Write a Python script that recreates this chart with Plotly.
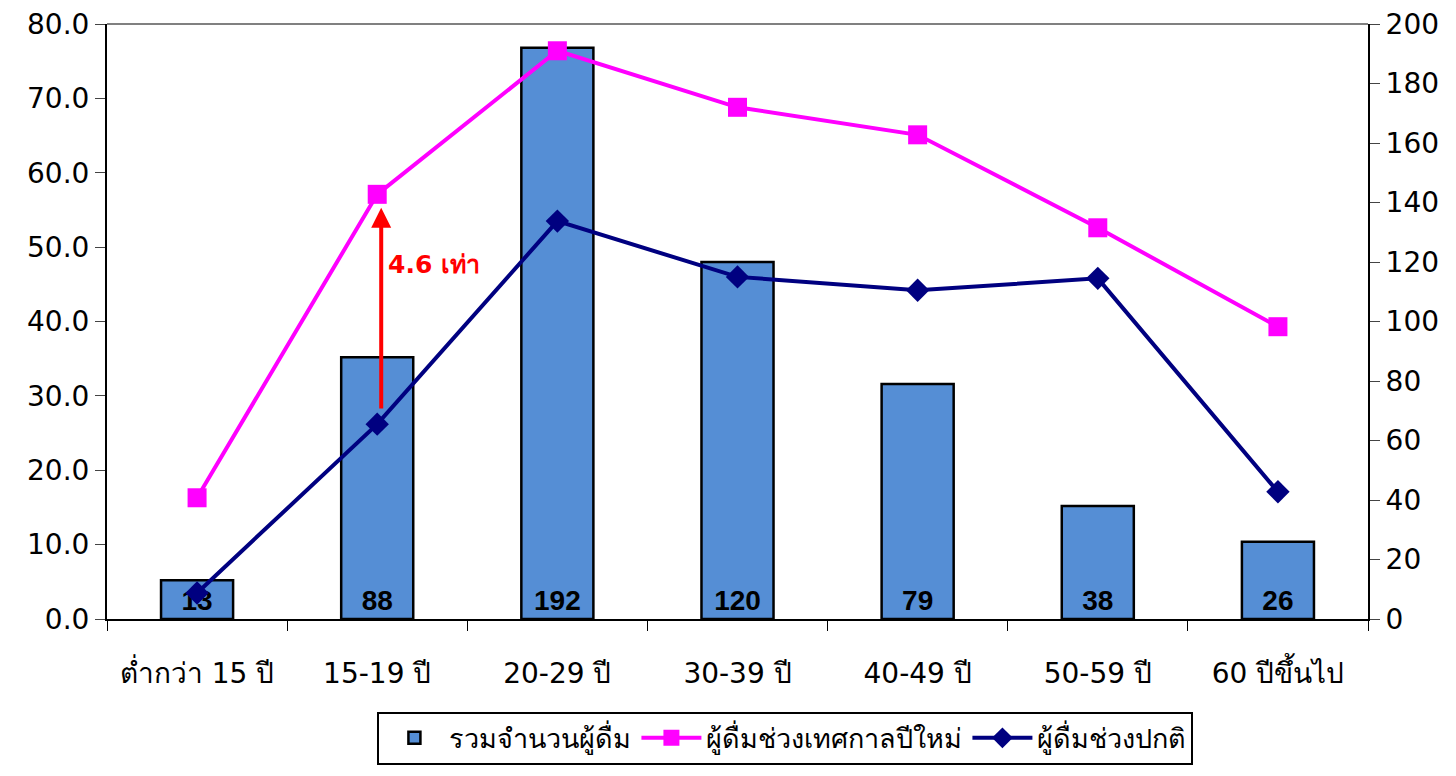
import plotly.graph_objects as go

categories = ["ต่ำกว่า 15 ปี", "15-19 ปี", "20-29 ปี", "30-39 ปี", "40-49 ปี", "50-59 ปี", "60 ปีขึ้นไป"]
total_drinkers = [13, 88, 192, 120, 79, 38, 26]
newyear_drinkers = [16.3, 57.1, 76.4, 68.8, 65.1, 52.6, 39.3]
normal_drinkers = [3.5, 26.2, 53.5, 46.0, 44.2, 45.8, 17.1]
left_ticks = [0, 10, 20, 30, 40, 50, 60, 70, 80]
right_ticks = [0, 20, 40, 60, 80, 100, 120, 140, 160, 180, 200]

FONT = "DejaVu Sans, Arial, sans-serif"

fig = go.Figure()
# bars on the right-hand axis (primary y), lines on the left-hand overlaying axis (drawn on top)
fig.add_trace(go.Bar(
    x=categories, y=total_drinkers, name="รวมจำนวนผู้ดื่ม", yaxis="y",
    marker=dict(color="#558ED5", line=dict(color="black", width=2.5)),
    text=[str(v) for v in total_drinkers], textposition="inside",
    insidetextanchor="start", constraintext="none", textangle=0,
    textfont=dict(family="Liberation Sans, Arial, sans-serif", size=28, color="black", weight="bold"),
))
fig.add_trace(go.Scatter(
    x=categories, y=newyear_drinkers, name="ผู้ดื่มช่วงเทศกาลปีใหม่", yaxis="y2",
    mode="lines+markers", line=dict(color="#FF00FF", width=4),
    marker=dict(symbol="square", size=19, color="#FF00FF"),
))
fig.add_trace(go.Scatter(
    x=categories, y=normal_drinkers, name="ผู้ดื่มช่วงปกติ", yaxis="y2",
    mode="lines+markers", line=dict(color="#000080", width=4),
    marker=dict(symbol="diamond", size=18, color="#000080"),
))

fig.add_annotation(
    x=categories[1], y=55.3, ax=categories[1], ay=28.1,
    xref="x", yref="y2", axref="x", ayref="y2", xshift=4,
    showarrow=True, arrowhead=2, arrowsize=1, arrowwidth=4, arrowcolor="#FF0000", text="",
)
fig.add_annotation(
    x=categories[1], y=47.6, xref="x", yref="y2", xanchor="left", xshift=9,
    text="<b>4.6 เท่า</b>", showarrow=False,
    font=dict(family="DejaVu Sans, sans-serif", size=25, color="#FF0000"),
)

fig.update_layout(
    width=1456, height=776,
    margin=dict(l=107, r=88, t=24, b=157, autoexpand=False),
    paper_bgcolor="white", plot_bgcolor="white",
    bargap=0.6,
    font=dict(family=FONT, size=28, color="black"),
    showlegend=True,
    legend=dict(orientation="h", x=0.538, xanchor="center", y=-0.156, yanchor="top",
                bordercolor="black", borderwidth=2, font=dict(size=27),
                itemwidth=60, tracegroupgap=0, traceorder="normal"),
    xaxis=dict(showline=True, linecolor="black", linewidth=2, ticks="outside",
               tickson="boundaries", ticklen=10, tickcolor="black",
               ticklabelstandoff=28, tickfont=dict(size=28), showgrid=False),
    yaxis=dict(range=[0, 200], tickvals=right_ticks, side="right",
               showline=True, linecolor="black", linewidth=2, ticks="outside",
               ticklen=10, showgrid=False, zeroline=False, tickfont=dict(size=28)),
    yaxis2=dict(range=[0, 80], tickvals=left_ticks, tickformat=".1f", overlaying="y",
                side="left", showline=True, linecolor="black", linewidth=2, ticks="outside",
                ticklen=10, showgrid=False, zeroline=False, tickfont=dict(size=28)),
    shapes=[dict(type="line", xref="paper", yref="paper", x0=0, x1=1, y0=1, y1=1,
                 line=dict(color="#808080", width=2))],
)

fig.write_html("out.html", config={"displayModeBar": False},
               post_script="document.body.style.margin='0';document.body.style.padding='0';")
